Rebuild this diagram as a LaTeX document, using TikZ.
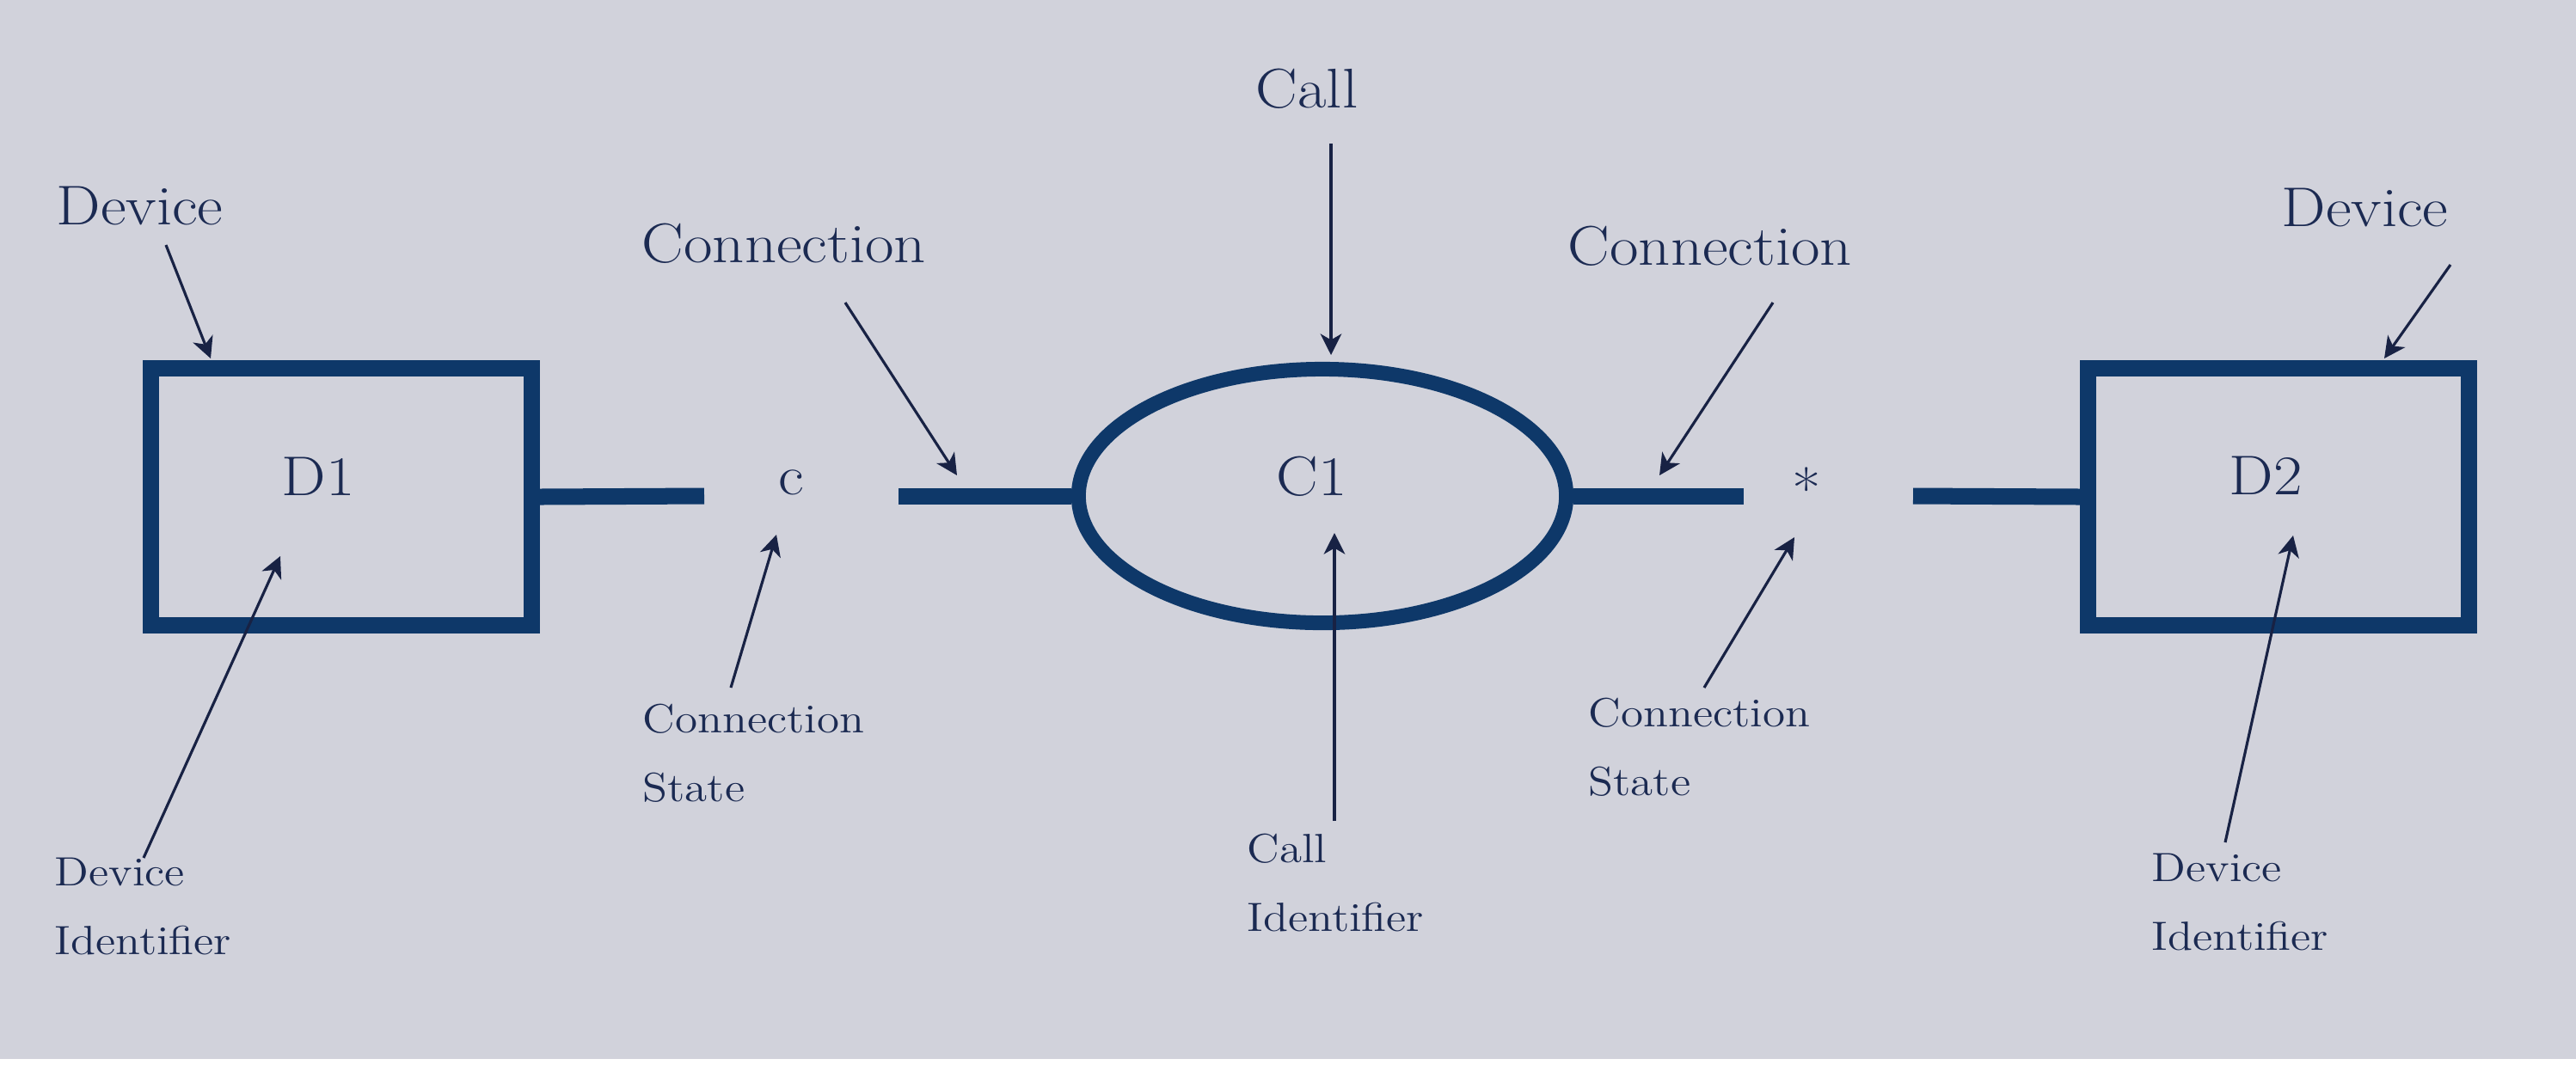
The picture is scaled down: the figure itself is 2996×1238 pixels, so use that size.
\documentclass[tikz,border=0pt]{standalone}
\usepackage{fontspec}
\setmainfont{Latin Modern Roman}[FakeStretch=1.12]
\usetikzlibrary{shapes.geometric,arrows.meta}
\definecolor{bgc}{RGB}{209,210,219}
\definecolor{navy}{RGB}{14,56,105}
\definecolor{inkc}{RGB}{27,42,82}
\definecolor{arrc}{RGB}{24,34,68}
\tikzset{
  devbox/.style={draw=navy, line width=0.19cm, minimum width=4.42cm, minimum height=2.98cm, inner sep=0pt},
  callell/.style={ellipse, draw=navy, line width=0.17cm, minimum width=5.67cm, minimum height=2.95cm, inner sep=0pt},
  wire/.style={draw=navy, line width=0.19cm},
  big/.style={inner sep=0pt, text=inkc, font=\fontsize{18.5}{22}\selectfont},
  small/.style={inner sep=0pt, text=inkc, font=\fontsize{13.5}{17}\selectfont},
  pointer/.style={draw=arrc, line width=0.9pt, -{Stealth[length=7pt,width=7pt,inset=2pt]}}
}
\begin{document}
\begin{tikzpicture}[x=0.01cm,y=-0.01cm]
\path[use as bounding box, fill=bgc] (0,0) rectangle (2996,1238);
\fill[white] (0,1232) rectangle (2996,1238);

% main shapes
\node[devbox] (d1) at (397,578) {};
\node[devbox] (d2) at (2650,578) {};
\node[callell] (c1) at (1538,577) {};

\node[big, anchor=base] (d1t) at (370,576) {D1};
\node[big, anchor=base] (d2t) at (2635,575) {D2};
\node[big, anchor=base] (c1t) at (1526,576) {C1};
\node[big, anchor=base] (cs) at (920,575) {c};
\node[big, anchor=center] (st) at (2101,568) {*};

% wires
\coordinate (w1) at (819,577);
\coordinate (w2) at (1045,577);
\coordinate (w3) at (2028,577);
\coordinate (w4) at (2225,577);
\draw[wire] (d1.east) -- (w1);
\draw[wire] (w2) -- (c1.west);
\draw[wire] (c1.east) -- (w3);
\draw[wire] (w4) -- (d2.west);

% labels
\node[big, anchor=base west] (devL) at (65,261) {Device};
\node[big, anchor=base west] (devR) at (2653,263) {Device};
\node[big, anchor=base west] (callT) at (1460,125) {Call};
\node[big, anchor=base west] (connL) at (746,305) {Connection};
\node[big, anchor=base west] (connR) at (1823,308) {Connection};

\node[small, anchor=base west] (csL1) at (747,852) {Connection};
\node[small, anchor=base west] (csL2) at (747,932) {State};
\node[small, anchor=base west] (csR1) at (1847,845) {Connection};
\node[small, anchor=base west] (csR2) at (1847,925) {State};
\node[small, anchor=base west] (ci1) at (1450,1003) {Call};
\node[small, anchor=base west] (ci2) at (1450,1083) {Identifier};
\node[small, anchor=base west] (diL1) at (63,1030) {Device};
\node[small, anchor=base west] (diL2) at (63,1110) {Identifier};
\node[small, anchor=base west] (diR1) at (2502,1025) {Device};
\node[small, anchor=base west] (diR2) at (2502,1105) {Identifier};

% pointer ends
\coordinate (a1s) at (193,285);  \coordinate (a1e) at (245,417);
\coordinate (a2s) at (2850,308); \coordinate (a2e) at (2773,417);
\coordinate (a3s) at (1548,167); \coordinate (a3e) at (1548,413);
\coordinate (a4s) at (983,352);  \coordinate (a4e) at (1113,553);
\coordinate (a5s) at (2062,352); \coordinate (a5e) at (1930,553);
\coordinate (a6s) at (850,800);  \coordinate (a6e) at (903,622);
\coordinate (a7s) at (1982,800); \coordinate (a7e) at (2087,625);
\coordinate (a8s) at (1552,955); \coordinate (a8e) at (1552,620);
\coordinate (a9s) at (167,998);  \coordinate (a9e) at (326,647);
\coordinate (a10s) at (2588,980); \coordinate (a10e) at (2667,623);

\draw[pointer] (a1s) -- (a1e);
\draw[pointer] (a2s) -- (a2e);
\draw[pointer] (a3s) -- (a3e);
\draw[pointer] (a4s) -- (a4e);
\draw[pointer] (a5s) -- (a5e);
\draw[pointer] (a6s) -- (a6e);
\draw[pointer] (a7s) -- (a7e);
\draw[pointer] (a8s) -- (a8e);
\draw[pointer] (a9s) -- (a9e);
\draw[pointer] (a10s) -- (a10e);
\end{tikzpicture}
\end{document}
